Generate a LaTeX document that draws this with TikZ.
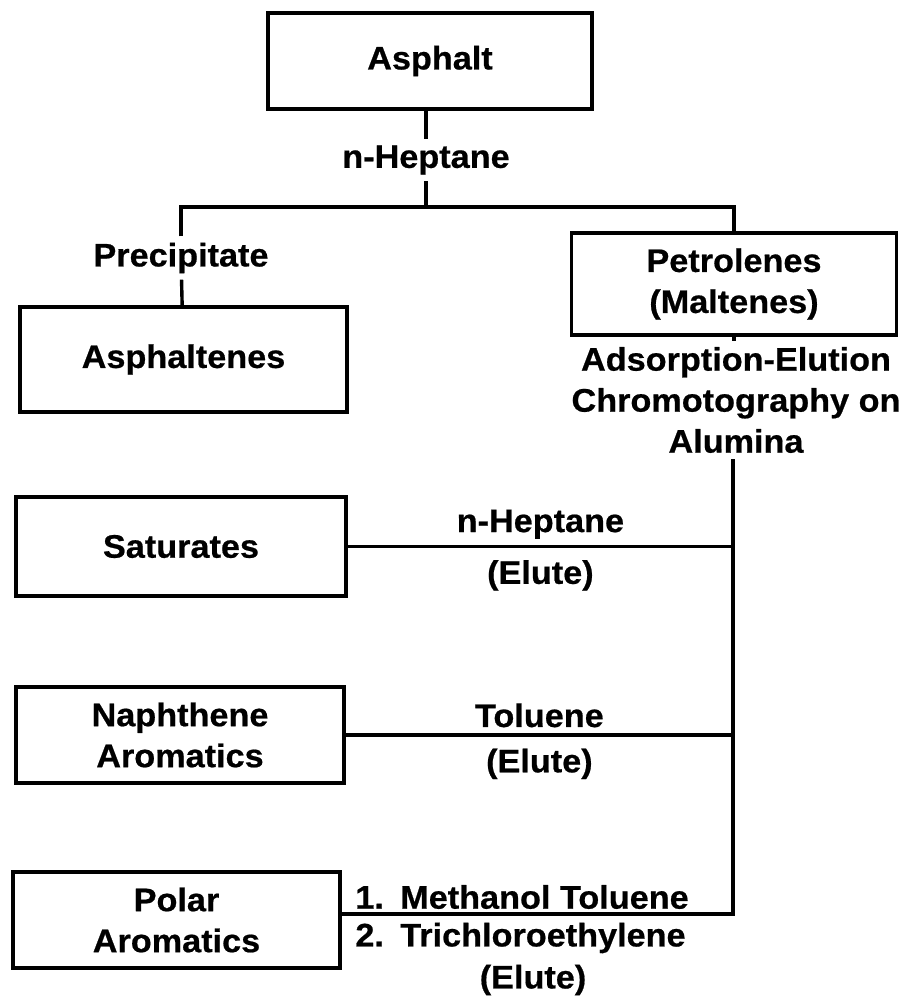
\documentclass[tikz,border=0pt]{standalone}
\usepackage{fontspec}
\setmainfont[FakeStretch=1.05, FakeBold=0.6]{Liberation Sans}
\usepackage{tikz}
\usetikzlibrary{positioning}

\begin{document}
\begin{tikzpicture}[x=0.5pt, y=-0.5pt,
    box/.style={draw, line width=1.8pt, align=center, font=\bfseries\fontsize{16.3}{20.5}\selectfont},
    lbl/.style={align=center, inner sep=3pt, font=\bfseries\fontsize{16.3}{20.5}\selectfont},
    link/.style={line width=1.7pt}]
    \useasboundingbox (0,0) rectangle (899,997);

    % boxes
    \node[box, minimum width=162pt, minimum height=48pt] (asphalt) at (430,61) {Asphalt};
    \node[box, minimum width=163.5pt, minimum height=52.5pt] (asphaltenes) at (183.5,359.5) {Asphaltenes};
    \node[box, minimum width=162.5pt, minimum height=51pt] (petrolenes) at (734,284) {Petrolenes\\(Maltenes)};
    \node[box, minimum width=165pt, minimum height=49.5pt] (saturates) at (181,546.5) {Saturates};
    \node[box, minimum width=164pt, minimum height=48pt] (naphthene) at (180,735) {Naphthene\\Aromatics};
    \node[box, minimum width=163.5pt, minimum height=48pt] (polar) at (176.5,920) {Polar\\Aromatics};

    % labels
    \node[lbl] (hep1) at (426,160) {n-Heptane};
    \node[lbl] (prec) at (181,258) {Precipitate};
    \node[lbl] (adsorb) at (736,400) {Adsorption-Elution\\Chromotography on\\Alumina};
    \node[lbl, anchor=west] (meth) at (349,897) {1.\enspace Methanol Toluene};
    \node[lbl, anchor=west] (trich) at (349,938) {2.\enspace Trichloroethylene};
    \node[lbl] (elute3) at (533,980) {(Elute)};
    \coordinate (split) at (426,207);
    \coordinate (corner) at (733,914);

    % n-heptane split
    \draw[link] (asphalt.south -| hep1) -- (hep1);
    \draw[link] (hep1) -- (split);
    \draw[link] (prec) |- (split) -| (petrolenes);
    \draw[link] (prec) -- (asphaltenes);

    % column
    \draw[link] (petrolenes) -- (petrolenes |- adsorb.north);
    \draw[link] (adsorb.south -| corner) -- (corner) -- (corner -| polar.east);
    \draw[link] (saturates.east) -- (saturates.east -| corner)
        node[lbl, midway, above] (hep2) {n-Heptane}
        node[lbl, midway, below, inner sep=6pt] (elute1) {(Elute)};
    \draw[link] (naphthene.east) -- (naphthene.east -| corner)
        node[lbl, midway, above] (tol) {Toluene}
        node[lbl, midway, below, inner sep=6pt] (elute2) {(Elute)};
\end{tikzpicture}
\end{document}
